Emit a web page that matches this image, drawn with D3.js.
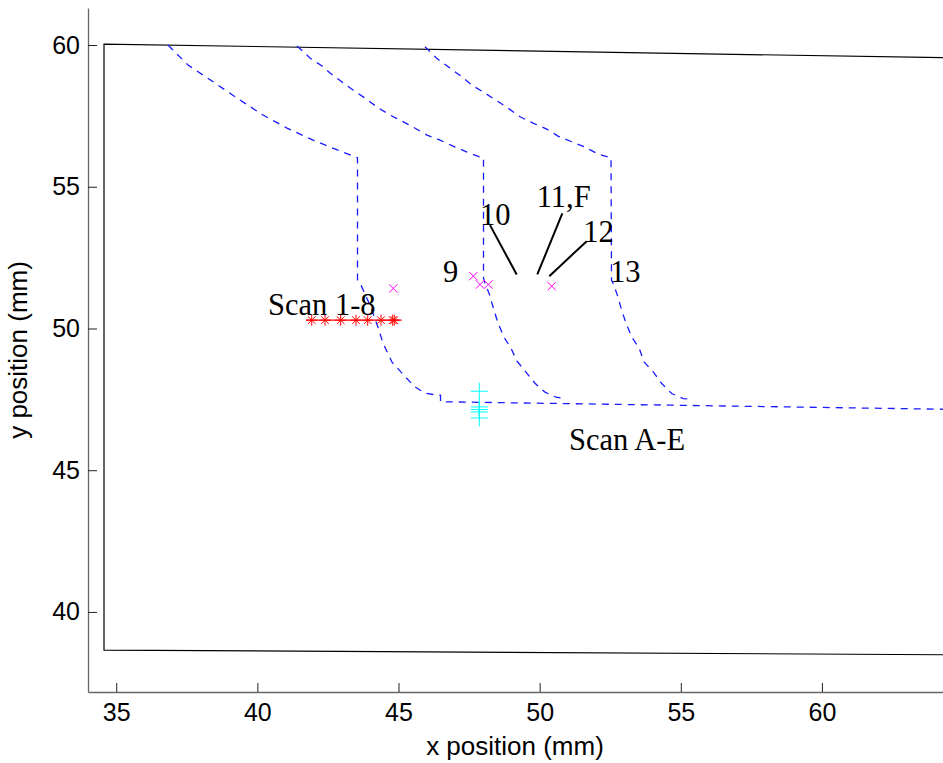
<!DOCTYPE html>
<html><head><meta charset="utf-8">
<script src="https://cdn.jsdelivr.net/npm/d3@7"></script>
<style>body{margin:0;background:#fff}svg{display:block;background:#fff}</style>
</head><body><svg id="c" width="943" height="763"></svg>
<script>
// ---- data (mm) ----
const xTicks = [35, 40, 45, 50, 55, 60];
const yTicks = [40, 45, 50, 55, 60];
const xDomain = [34, 64.289];
const yDomain = [37.176, 61.306];

const sampleOutline = [[64.289, 38.49], [34.567, 38.655], [34.567, 60.035], [64.289, 59.552]];

const boundary1 = [[36.834,60.0],[37.543,59.294],[38.499,58.659],[39.385,58.058],[40.200,57.529],
  [41.050,57.070],[41.971,56.647],[42.573,56.400],[43.388,56.082],[43.547,56.022],
  [43.547,51.705],[43.671,51.528],[43.990,50.822],[44.274,50.046],[44.451,49.481],
  [44.770,48.810],[45.159,48.387],[45.549,47.963],[45.939,47.716],[46.399,47.646],
  [46.488,47.646],[46.488,47.416],[64.289,47.151]];

const boundary2 = [[41.404,59.965],[41.865,59.541],[42.290,59.259],[42.573,59.012],[42.998,58.694],
  [43.388,58.412],[43.813,58.129],[44.238,57.812],[44.699,57.529],[45.053,57.353],
  [45.513,57.106],[46.009,56.823],[46.470,56.647],[46.931,56.435],[47.427,56.223],
  [47.887,56.047],[48.011,56.022],[48.011,51.775],[48.064,51.599],[48.206,51.246],
  [48.383,50.646],[48.525,50.187],[48.737,49.693],[48.985,49.305],[49.198,48.846],
  [49.517,48.458],[49.835,48.069],[50.189,47.752],[50.579,47.575],[50.791,47.540]];

const boundary3 = [[45.939,59.940],[46.353,59.531],[46.824,59.188],[47.239,58.881],[47.593,58.588],
  [48.064,58.306],[48.479,58.034],[48.879,57.776],[49.304,57.469],[49.765,57.247],
  [50.250,57.035],[50.650,56.788],[51.136,56.587],[51.607,56.400],[52.068,56.153],
  [52.528,56.022],[52.546,51.705],[52.599,51.599],[52.730,51.246],[52.907,50.646],
  [53.059,50.187],[53.261,49.704],[53.530,49.294],[53.697,48.821],[54.026,48.468],
  [54.324,48.058],[54.678,47.705],[55.089,47.529],[55.256,47.515]];

const scan18X = [41.925, 42.396, 42.952, 43.494, 43.909, 44.380, 44.794, 44.85];
const scan18Y = [50.293, 50.293, 50.293, 50.293, 50.293, 50.293, 50.293, 50.293];
const scan18Line = [[41.72, 50.293], [45.11, 50.293]];

const spotX = [44.815, 47.650, 47.887, 48.181, 50.427];
const spotY = [51.412, 51.846, 51.553, 51.553, 51.493];

const scanAEX = [47.862, 47.862, 47.862, 47.862, 47.862];
const scanAEY = [47.787, 47.232, 47.141, 47.056, 46.844];

const labelText = ["Scan 1-8", "Scan A-E", "9", "10", "11,F", "12", "13"];
const labelX = [40.376, 51.04, 46.576, 47.887, 49.895, 51.546, 52.492];
const labelY = [50.467, 45.703, 51.645, 53.646, 54.292, 53.057, 51.645];

const leaderLines = [
  [[48.241, 53.646], [49.186, 51.906]],
  [[50.803, 54.059], [49.917, 51.906]],
  [[51.667, 53.081], [50.342, 51.846]]
];

// ---- drawing ----
const svg = d3.select("#c");
const x = d3.scaleLinear().domain(xDomain).range([88, 943]);
const y = d3.scaleLinear().domain(yDomain).range([692, 8]);
const line = d3.line().x(d => x(d[0])).y(d => y(d[1]));

// axes
const gx = svg.append("g").attr("transform", "translate(0,692)")
  .call(d3.axisBottom(x).tickValues(xTicks).tickSizeInner(-9).tickSizeOuter(0).tickPadding(11.5));
const gy = svg.append("g").attr("transform", "translate(88,0)")
  .call(d3.axisLeft(y).tickValues(yTicks).tickSizeInner(-9).tickSizeOuter(0).tickPadding(8));
[gx, gy].forEach(g => {
  g.select(".domain").attr("stroke", "#666").attr("stroke-width", 1.3);
  g.selectAll(".tick line").attr("stroke", "#222");
  g.selectAll(".tick text").attr("font-family", "Liberation Sans, Arial, sans-serif")
    .attr("font-size", 25).attr("fill", "#000");
});

svg.append("text").attr("x", 515).attr("y", 755).attr("text-anchor", "middle")
  .attr("font-family", "Liberation Sans, Arial, sans-serif").attr("font-size", 26)
  .text("x position (mm)");
svg.append("text").attr("transform", "translate(27,350) rotate(-90)").attr("text-anchor", "middle")
  .attr("font-family", "Liberation Sans, Arial, sans-serif").attr("font-size", 26)
  .text("y position (mm)");

// sample outline
svg.append("path").attr("d", line(sampleOutline)).attr("fill", "none")
  .attr("stroke", "#000").attr("stroke-width", 1.2);

// boundaries
[boundary1, boundary2, boundary3].forEach(b => {
  svg.append("path").attr("d", line(b)).attr("fill", "none")
    .attr("stroke", "#1a1aff").attr("stroke-width", 1.3).attr("stroke-dasharray", "7,6");
});

// scan 1-8
svg.append("path").attr("d", line(scan18Line)).attr("stroke", "#ff0000").attr("stroke-width", 1.2);
const ast = s => `M${-s},0L${s},0M0,${-s}L0,${s}M${-s*0.7},${-s*0.7}L${s*0.7},${s*0.7}M${-s*0.7},${s*0.7}L${s*0.7},${-s*0.7}`;
scan18X.forEach((v, i) => {
  svg.append("path").attr("transform", `translate(${x(v)},${y(scan18Y[i])})`)
    .attr("d", ast(5.5)).attr("stroke", "#ff0000").attr("stroke-width", 1).attr("fill", "none");
});

// spots 9-13
const cross = s => `M${-s},${-s}L${s},${s}M${-s},${s}L${s},${-s}`;
spotX.forEach((v, i) => {
  svg.append("path").attr("transform", `translate(${x(v)},${y(spotY[i])})`)
    .attr("d", cross(4.2)).attr("stroke", "#ff00ff").attr("stroke-width", 1).attr("fill", "none");
});

// scan A-E
const plus = s => `M${-s},0L${s},0M0,${-s}L0,${s}`;
scanAEX.forEach((v, i) => {
  svg.append("path").attr("transform", `translate(${x(v)},${y(scanAEY[i])})`)
    .attr("d", plus(8.5)).attr("stroke", "#00ffff").attr("stroke-width", 1).attr("fill", "none");
});

// leader lines
leaderLines.forEach(l => {
  svg.append("path").attr("d", line(l)).attr("stroke", "#000").attr("stroke-width", 2);
});

// labels
labelText.forEach((t, i) => {
  svg.append("text").attr("x", x(labelX[i])).attr("y", y(labelY[i]))
    .attr("font-family", "Liberation Serif, Times New Roman, serif").attr("font-size", 30.5)
    .attr("fill", "#000").text(t);
});
</script>
</body></html>
